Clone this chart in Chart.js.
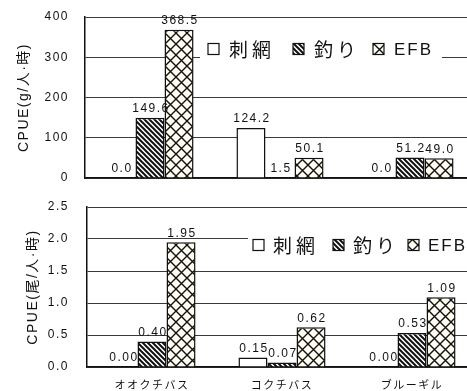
<!DOCTYPE html>
<html><head><meta charset="utf-8">
<script src="https://cdn.jsdelivr.net/npm/chart.js@4/dist/chart.umd.min.js"></script>
<style>
html,body{margin:0;padding:0;background:#fff;overflow:hidden;width:467px;height:391px;}
canvas{position:absolute;left:0;}
#c1{top:0;}
#c2{top:190px;}
</style></head><body>
<canvas id="c1" width="480" height="195"></canvas>
<canvas id="c2" width="480" height="201"></canvas>
<script>
const categories = ['オオクチバス', 'コクチバス', 'ブルーギル'];
const seriesNames = ['刺網', '釣り', 'EFB'];
const weightGillnet = [0.0, 124.2, 0.0];
const weightAngling = [149.6, 1.5, 51.2];
const weightEFB = [368.5, 50.1, 49.0];
const countGillnet = [0.00, 0.15, 0.00];
const countAngling = [0.40, 0.07, 0.53];
const countEFB = [1.95, 0.62, 1.09];
const weightTicks = [0, 100, 200, 300, 400];
const countTicks = [0.0, 0.5, 1.0, 1.5, 2.0, 2.5];
const weightTitle = 'CPUE(g/人·時)';
const countTitle = 'CPUE(尾/人·時)';

Chart.defaults.font.family = "'Liberation Sans', Arial, 'Noto Sans CJK JP', sans-serif";
Chart.defaults.color = '#222';

function stripePattern() {
  const s = 5, c = document.createElement('canvas'); c.width = s; c.height = s;
  const x = c.getContext('2d');
  x.fillStyle = '#fff'; x.fillRect(0, 0, s, s);
  x.strokeStyle = '#111'; x.lineWidth = 2;
  x.beginPath();
  x.moveTo(-2, -2); x.lineTo(s + 2, s + 2);
  x.moveTo(-2, s - 2); x.lineTo(2, s + 2);
  x.moveTo(s - 2, -2); x.lineTo(s + 2, 2);
  x.stroke();
  return x.createPattern(c, 'repeat');
}
function crossPattern() {
  const s = 11, c = document.createElement('canvas'); c.width = s; c.height = s;
  const x = c.getContext('2d');
  x.fillStyle = '#fffdf2'; x.fillRect(0, 0, s, s);
  x.strokeStyle = '#111'; x.lineWidth = 1.4;
  x.beginPath();
  x.moveTo(-1, -1); x.lineTo(s + 1, s + 1);
  x.moveTo(s + 1, -1); x.lineTo(-1, s + 1);
  x.stroke();
  return x.createPattern(c, 'repeat');
}
const fills = ['#ffffff', stripePattern(), crossPattern()];

function makeDatasets(a, b, c) {
  return [a, b, c].map((d, i) => ({
    label: seriesNames[i], data: d, backgroundColor: fills[i],
    borderColor: '#111', borderWidth: 1.5,
    categoryPercentage: 0.67, barPercentage: 1.0
  }));
}

const spacingPlugin = { id: 'spacing', beforeDraw(chart) { chart.ctx.letterSpacing = '1.5px'; } };

function valueLabels(digits) {
  return { id: 'vals', afterDatasetsDraw(chart) {
    const ctx = chart.ctx; ctx.save();
    ctx.letterSpacing = '1.5px';
    ctx.font = "12px 'Liberation Sans', Arial";
    ctx.fillStyle = '#111'; ctx.textAlign = 'center'; ctx.textBaseline = 'bottom';
    chart.data.datasets.forEach((ds, i) => {
      chart.getDatasetMeta(i).data.forEach((el, j) => {
        ctx.fillText(ds.data[j].toFixed(digits), el.x + 1, el.y - 3);
      });
    });
    ctx.restore();
  } };
}

function legendPlugin(cfg) {
  return { id: 'fakeLegend', afterDraw(chart) {
    const ctx = chart.ctx; ctx.save();
    ctx.fillStyle = '#fff';
    ctx.fillRect(cfg.bx, cfg.by, cfg.bw, cfg.bh);
    ctx.textBaseline = 'middle'; ctx.textAlign = 'left';
    chart.data.datasets.forEach((ds, i) => {
      const sw = 11, x = cfg.xs[i];
      ctx.fillStyle = ds.backgroundColor;
      ctx.fillRect(x, cfg.y - sw / 2, sw, sw);
      ctx.strokeStyle = '#111'; ctx.lineWidth = 1.2;
      ctx.strokeRect(x, cfg.y - sw / 2, sw, sw);
      const latin = /^[A-Za-z]+$/.test(ds.label);
      ctx.font = latin ? "17px 'Liberation Sans', Arial" : "19px 'Noto Sans CJK JP'";
      ctx.letterSpacing = latin ? '2px' : '4px';
      ctx.fillStyle = '#111';
      ctx.fillText(ds.label, x + cfg.gap, cfg.y + 1);
    });
    ctx.restore();
  } };
}

function makeChart(id, dsets, ticks, title, yOpts, opts) {
  return new Chart(document.getElementById(id), {
    type: 'bar',
    data: { labels: categories, datasets: dsets },
    options: {
      responsive: false, animation: false, devicePixelRatio: 1,
      layout: { padding: opts.padding },
      plugins: { legend: { display: false }, tooltip: { enabled: false } },
      scales: {
        x: {
          grid: { display: false },
          border: { display: true, color: '#111', width: 1.5 },
          ticks: { display: opts.showX, padding: 3, color: '#111',
                   font: { size: 11, family: "'Noto Sans CJK JP', sans-serif" } },
          afterFit: s => { s.height = opts.xHeight; }
        },
        y: {
          min: yOpts.min, max: yOpts.max,
          afterBuildTicks: s => { s.ticks = ticks.map(v => ({ value: v })); },
          grid: { color: '#3a3a3a', lineWidth: 1, drawTicks: false },
          border: { display: true, color: '#111', width: 1.5 },
          ticks: { padding: opts.tickPad, color: '#111', font: { size: 12 },
                   callback: v => yOpts.fmt(v) },
          title: { display: true, text: title, color: '#111',
                   font: { size: 14 }, padding: { top: opts.titlePad, bottom: 0 } },
          afterFit: s => { s.width = opts.yWidth; s.paddingTop = 7; s.paddingBottom = 7; }
        }
      }
    },
    plugins: [spacingPlugin, valueLabels(opts.digits), legendPlugin(opts.legend)]
  });
}

makeChart('c1', makeDatasets(weightGillnet, weightAngling, weightEFB), weightTicks, weightTitle,
  { min: 0, max: 400, fmt: v => String(v) },
  { padding: { left: 0, top: 17, right: 5, bottom: 17 }, showX: false, xHeight: 0,
    yWidth: 85, tickPad: 16, titlePad: 16, digits: 1,
    legend: { bx: 200, by: 37, bw: 242, bh: 28, xs: [208, 293, 373], y: 49, gap: 21 } });

makeChart('c2', makeDatasets(countGillnet, countAngling, countEFB), countTicks, countTitle,
  { min: 0, max: 2.5, fmt: v => v.toFixed(1) },
  { padding: { left: 0, top: 17, right: 3, bottom: 0 }, showX: true, xHeight: 24,
    yWidth: 87, tickPad: 18, titlePad: 25, digits: 2,
    legend: { bx: 248, by: 42, bw: 240, bh: 26, xs: [253, 333, 408], y: 55, gap: 20 } });
</script>
</body></html>
